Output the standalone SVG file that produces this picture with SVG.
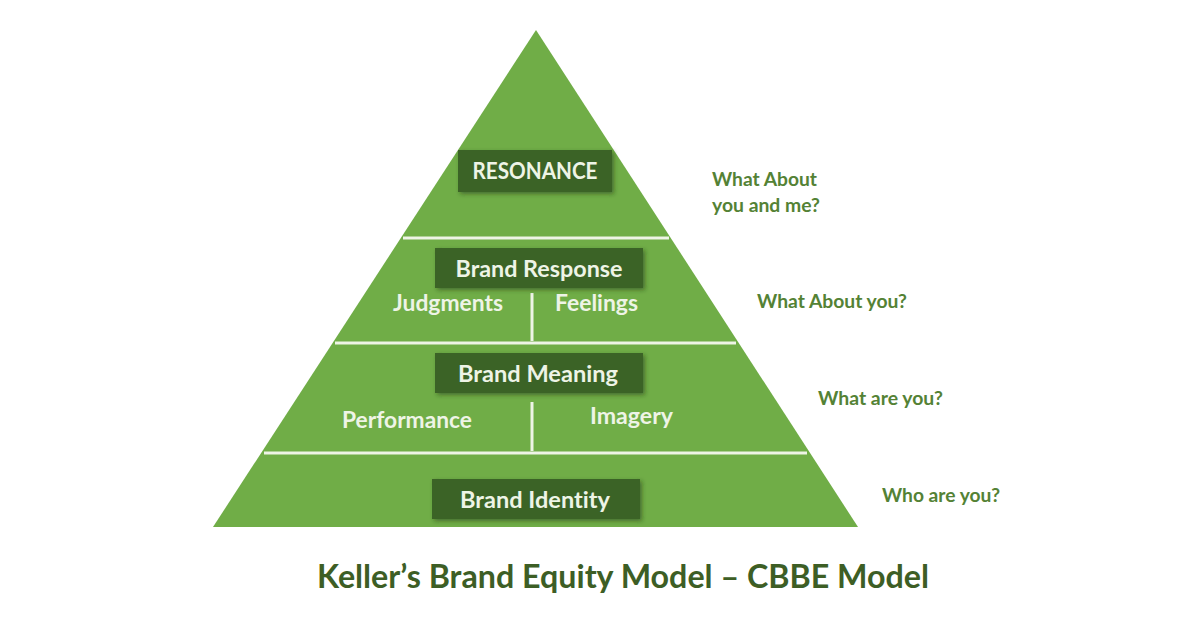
<svg xmlns="http://www.w3.org/2000/svg" width="1200" height="630" viewBox="0 0 1200 630">
<defs>
<filter id="sh" x="-10%" y="-20%" width="130%" height="150%">
<feDropShadow dx="2" dy="2" stdDeviation="2" flood-color="#1e3012" flood-opacity="0.5"/>
</filter>
</defs>
<style>
text{font-variant-ligatures:none;font-feature-settings:"liga" 0,"clig" 0,"dlig" 0}
.box{fill:#3a6428;filter:url(#sh)}
.bt{font-family:Lato,"Open Sans",sans-serif;font-weight:700;font-size:22px;fill:#eef4e6;text-anchor:middle}
.st{font-family:Lato,"Open Sans",sans-serif;font-weight:700;font-size:22px;fill:#eef4e6}
.q{font-family:Lato,"Open Sans",sans-serif;font-weight:700;font-size:19px;fill:#548235}
.sep{stroke:#eef4e6;stroke-width:3}
.title{font-family:Lato,"Open Sans",sans-serif;font-weight:700;font-size:33px;fill:#3d5e25}
</style>
<rect width="1200" height="630" fill="#ffffff"/>
<g id="pyramid">
<polygon points="536,30 858,527 213,527" fill="#70ad47"/>
</g>
<g id="connectors">
<line class="sep" x1="403" y1="238" x2="669" y2="238"/>
<line class="sep" x1="335" y1="343" x2="736" y2="343"/>
<line class="sep" x1="264" y1="453" x2="807" y2="453"/>
<line class="sep" x1="532" y1="293" x2="532" y2="341"/>
<line class="sep" x1="532" y1="402" x2="532" y2="451"/>
</g>
<g id="resonance">
<rect class="box" x="458" y="150" width="154" height="42"/>
<text class="bt" x="535" y="179" textLength="125" lengthAdjust="spacingAndGlyphs">RESONANCE</text>
</g>
<g id="brand-response">
<rect class="box" x="435" y="248" width="208" height="40"/>
<text class="bt" x="539" y="277" textLength="167" lengthAdjust="spacingAndGlyphs">Brand Response</text>
</g>
<g id="judgments">
<text class="st" x="393" y="311" textLength="110" lengthAdjust="spacingAndGlyphs">Judgments</text>
</g>
<g id="feelings">
<text class="st" x="555" y="311" textLength="83" lengthAdjust="spacingAndGlyphs">Feelings</text>
</g>
<g id="brand-meaning">
<rect class="box" x="435" y="353" width="208" height="40"/>
<text class="bt" x="538" y="382" textLength="160" lengthAdjust="spacingAndGlyphs">Brand Meaning</text>
</g>
<g id="performance">
<text class="st" x="342" y="428" textLength="130" lengthAdjust="spacingAndGlyphs">Performance</text>
</g>
<g id="imagery">
<text class="st" x="590" y="424" textLength="83" lengthAdjust="spacingAndGlyphs">Imagery</text>
</g>
<g id="brand-identity">
<rect class="box" x="432" y="479" width="208" height="40"/>
<text class="bt" x="535" y="508" textLength="150" lengthAdjust="spacingAndGlyphs">Brand Identity</text>
</g>
<g id="q1">
<text class="q" x="712" y="186" textLength="105" lengthAdjust="spacingAndGlyphs">What About</text>
<text class="q" x="712" y="212" textLength="108" lengthAdjust="spacingAndGlyphs">you and me?</text>
</g>
<g id="q2">
<text class="q" x="757" y="308" textLength="150" lengthAdjust="spacingAndGlyphs">What About you?</text>
</g>
<g id="q3">
<text class="q" x="818" y="405" textLength="125" lengthAdjust="spacingAndGlyphs">What are you?</text>
</g>
<g id="q4">
<text class="q" x="882" y="502" textLength="118" lengthAdjust="spacingAndGlyphs">Who are you?</text>
</g>
<g id="title">
<text class="title" x="317" y="588" textLength="612" lengthAdjust="spacingAndGlyphs">Keller’s Brand Equity Model – CBBE Model</text>
</g>
</svg>
